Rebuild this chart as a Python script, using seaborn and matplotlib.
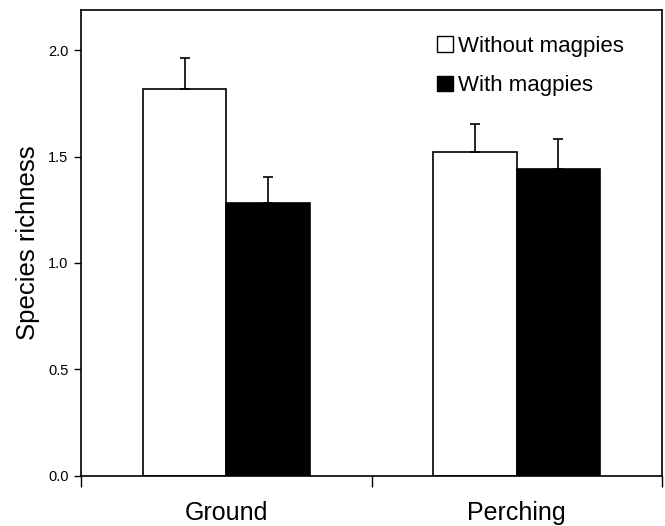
import numpy as np
import pandas as pd
import matplotlib
matplotlib.use("Agg")
import matplotlib.pyplot as plt
import seaborn as sns
from matplotlib.patches import Patch

# data
groups = ["Ground", "Perching"]
treatments = ["Without magpies", "With magpies"]
richness_without = [1.82, 1.52]
richness_with = [1.28, 1.44]
se_without = [0.145, 0.135]
se_with = [0.123, 0.141]

df = pd.DataFrame({
    "group": groups * 2,
    "treatment": [treatments[0]] * 2 + [treatments[1]] * 2,
    "richness": richness_without + richness_with,
    "se": se_without + se_with,
})

sns.set_style("ticks")
plt.rcParams["font.family"] = ["Liberation Sans", "DejaVu Sans"]
plt.rcParams["text.color"] = "black"
plt.rcParams["axes.labelcolor"] = "black"
plt.rcParams["xtick.color"] = "black"
plt.rcParams["ytick.color"] = "black"

fig = plt.figure(figsize=(6.65, 5.26), dpi=100)
ax = fig.add_axes([0.1218, 0.096, 0.8737, 0.885])

sns.barplot(data=df, x="group", y="richness", hue="treatment",
            hue_order=treatments, order=groups,
            palette={treatments[0]: "white", treatments[1]: "black"},
            width=0.574, errorbar=None, edgecolor="black", linewidth=1.2,
            legend=False, ax=ax)

# upward-only error bars, placed on the bar centres
for patch, (_, row) in zip(ax.patches, df.iterrows()):
    xc = patch.get_x() + patch.get_width() / 2
    ax.errorbar(xc, row["richness"], yerr=[[0], [row["se"]]], fmt="none",
                ecolor="black", elinewidth=1.2, capsize=3.5, capthick=1.2)

ax.set_xlim(-0.5, 1.5)
ax.set_ylim(0, 2.19)
ax.set_yticks([0.0, 0.5, 1.0, 1.5, 2.0])
ax.set_yticklabels(["0.0", "0.5", "1.0", "1.5", "2.0"], fontsize=10.5)
ax.tick_params(axis="y", direction="out", length=5, width=1, pad=4)

ax.set_xticks([0, 1])
ax.set_xticklabels(groups, fontsize=18)
ax.tick_params(axis="x", which="major", length=0, pad=18)
ax.set_xticks([-0.5, 0.5, 1.5], minor=True)
ax.tick_params(axis="x", which="minor", direction="out", length=8, width=1)

ax.set_xlabel("")
ax.set_ylabel("Species richness", fontsize=18.5, labelpad=6)

for s in ax.spines.values():
    s.set_visible(True)
    s.set_linewidth(1.2)
    s.set_color("black")

handles = [Patch(facecolor="white", edgecolor="black", linewidth=1),
           Patch(facecolor="black", edgecolor="black", linewidth=1)]
ax.legend(handles, treatments, loc="upper right", frameon=False, fontsize=16,
          handlelength=0.7, handleheight=0.7, handletextpad=0.25,
          labelspacing=0.85, bbox_to_anchor=(0.969, 0.988))

fig.savefig("out.png", dpi=100)
